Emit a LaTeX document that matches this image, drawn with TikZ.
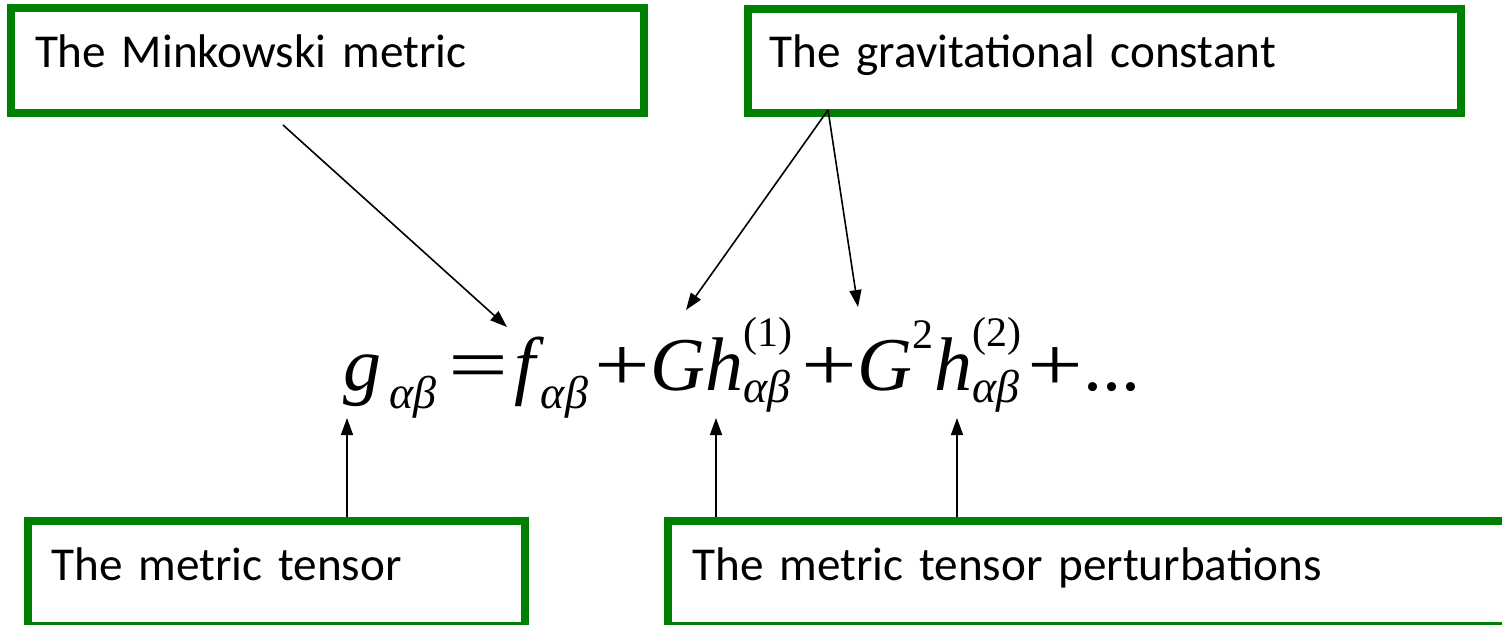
\documentclass[tikz,border=0pt]{standalone}
\usepackage{amsmath}
\usepackage{fontspec}
\setmainfont{Carlito}
\newfontfamily\eqfont{Liberation Serif}
\usetikzlibrary{calc,arrows.meta}

\definecolor{boxgreen}{RGB}{0,128,0}

% pieces of the expansion, set in Times metrics
\newcommand{\eqi}[1]{\text{\eqfont\itshape #1}}
\newcommand{\eqr}[1]{\text{\eqfont #1}}
\newcommand{\eqsub}[1]{\text{\eqfont\itshape\fontsize{23}{25}\selectfont #1}}
\newcommand{\eqsup}[1]{\text{\raisebox{5pt}{\eqfont\fontsize{21}{22}\selectfont #1}}}
\newcommand{\eqop}[2]{\mathord{\text{\eqfont\scalebox{#1}[1]{#2}}}}

\begin{document}
\begin{tikzpicture}[x=0.5pt,y=-0.5pt,
  labelbox/.style={draw=boxgreen,line width=4pt,align=left,inner ysep=0pt,
    text height=16pt,font=\fontsize{23.6}{28}\selectfont},
  pointer/.style={line width=0.8pt,-{Triangle[length=8.5pt,width=6pt]}}]

% picture frame
\useasboundingbox (0,0) rectangle (1502,625);
\clip (0,0) rectangle (1502,625);

% label boxes
\node[labelbox,minimum width=316.5pt,minimum height=52.25pt,
  text width=292.5pt,inner xsep=12pt,text depth=8.75pt]
  (mink) at (327.5,60.75) {The Minkowski metric};
\node[labelbox,minimum width=356.75pt,minimum height=52pt,
  text width=334.75pt,inner xsep=11pt,text depth=9pt]
  (grav) at (1104.25,61) {The gravitational constant};
\node[labelbox,minimum width=248.75pt,minimum height=52.5pt,
  text width=224.75pt,inner xsep=12pt,text depth=9.5pt]
  (met) at (276.25,573.5) {The metric tensor};
\node[labelbox,minimum width=423.75pt,minimum height=52.5pt,
  text width=398.75pt,inner xsep=12.5pt,text depth=9.5pt]
  (pert) at (1091.25,573.5) {The metric tensor perturbations};

% the expansion
\node[anchor=base west,inner sep=0pt,font=\fontsize{38}{42}\selectfont]
  (eq) at (343,390)
  {$\eqi{g}_{\,\eqsub{αβ}}\mkern4mu\eqop{1.4}{=}\mkern2mu
    \eqi{f}_{\mkern2mu\eqsub{αβ}}\mkern2mu\eqop{1.3}{+}
    \eqi{G}\eqi{h}^{\eqsup{(1)}}_{\eqsub{αβ}}\mkern3mu\eqop{1.3}{+}
    \eqi{G}^{\eqsup{2}}\eqi{h}^{\eqsup{(2)}}_{\eqsub{αβ}}\mkern2mu\eqop{1.3}{+}
    \eqr{...}$};

% arrow tips on the expansion
\coordinate (Mk) at (507,327);
\coordinate (Gc1) at (686,310);
\coordinate (Gc2) at (858,307);
\coordinate (Mt) at (347,418);
\coordinate (Pt1) at (716,418);
\coordinate (Pt2) at (957,418);

% upper pointers
\draw[pointer] ($(mink.south)+(-44.5,8)$) -- (Mk);
\draw[pointer] ($(grav.south)+(-276.25,-7)$) -- (Gc1);
\draw[pointer] ($(grav.south)+(-276.25,-7)$) -- (Gc2);

% lower pointers
\draw[pointer] (met.north -| Mt) -- (Mt);
\draw[pointer] (pert.north -| Pt1) -- (Pt1);
\draw[pointer] (pert.north -| Pt2) -- (Pt2);

\end{tikzpicture}
\end{document}
